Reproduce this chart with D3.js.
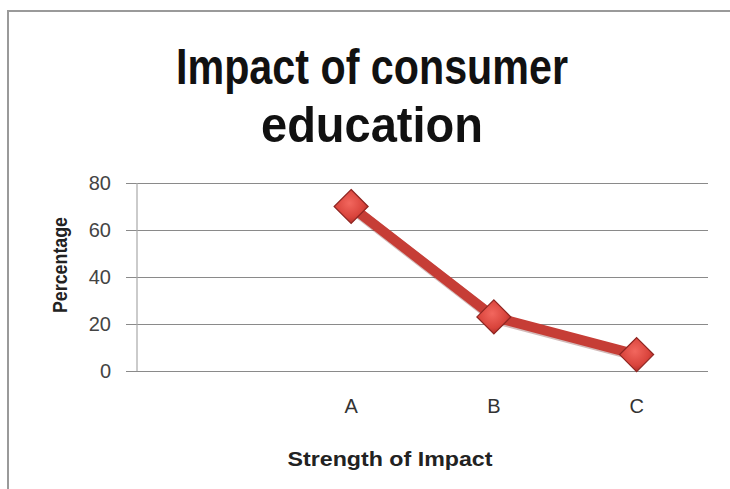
<!DOCTYPE html>
<html>
<head>
<meta charset="utf-8">
<script src="https://cdn.jsdelivr.net/npm/d3@7"></script>
<style>
  html, body { margin: 0; padding: 0; background: #fff; }
  svg { display: block; }
</style>
</head>
<body>
<svg id="chart" width="730" height="489"></svg>
<script>
// ---- data ----
const categories = ["", "A", "B", "C"];
const values = [null, 70, 23, 7];
const yTicks = [0, 20, 40, 60, 80];
const titleLines = ["Impact of consumer", "education"];
const xTitle = "Strength of Impact";
const yTitle = "Percentage";

const svg = d3.select("#chart");
const W = 730, H = 489;
const plot = { left: 137, right: 708, top: 183, bottom: 371 };

// frame
svg.append("rect").attr("width", W).attr("height", H).attr("fill", "#fff");
svg.append("path")
  .attr("d", `M8,${H} L8,11 L${W},11`)
  .attr("fill", "none").attr("stroke", "#9a9a9a").attr("stroke-width", 2);

const x = d3.scaleBand().domain(categories).range([plot.left, plot.right]);
const y = d3.scaleLinear().domain([0, 80]).range([plot.bottom, plot.top]);

const titleFont = "'Liberation Sans Narrow', 'Liberation Sans', Arial, sans-serif";
const bodyFont = "'Liberation Sans', Arial, sans-serif";

// title
const tl = [
  { text: titleLines[0], y: 84, len: 392 },
  { text: titleLines[1], y: 142, len: 222 }
];
svg.selectAll("text.title").data(tl).enter().append("text")
  .attr("class", "title")
  .attr("x", 372).attr("y", d => d.y)
  .attr("text-anchor", "middle")
  .attr("font-family", titleFont).attr("font-weight", "bold")
  .attr("font-size", 50).attr("fill", "#111")
  .attr("textLength", d => d.len).attr("lengthAdjust", "spacingAndGlyphs")
  .text(d => d.text);

// y axis with gridlines
const yAxis = d3.axisLeft(y).tickValues(yTicks).tickSize(-(plot.right - plot.left + 11)).tickPadding(15);
const gy = svg.append("g").attr("transform", `translate(${plot.left - 11},0)`).call(yAxis);
gy.select(".domain").remove();
gy.selectAll(".tick line").attr("stroke", "#8a8a8a").attr("stroke-width", 1.2);
gy.selectAll(".tick text")
  .attr("font-family", bodyFont).attr("font-size", 20).attr("fill", "#444")
  .attr("x", 111 - (plot.left - 11));

// vertical axis line
svg.append("line")
  .attr("x1", plot.left).attr("x2", plot.left)
  .attr("y1", plot.top).attr("y2", plot.bottom)
  .attr("stroke", "#a8a8a8").attr("stroke-width", 1.2);

// x axis labels
const xAxis = d3.axisBottom(x).tickSize(0).tickPadding(0);
const gx = svg.append("g").attr("transform", `translate(0,${plot.bottom})`).call(xAxis);
gx.select(".domain").remove();
gx.selectAll(".tick text")
  .attr("font-family", bodyFont).attr("font-size", 20).attr("fill", "#333")
  .attr("dy", null).attr("y", 42);

// axis titles
svg.append("text")
  .attr("x", 390).attr("y", 466)
  .attr("text-anchor", "middle")
  .attr("font-family", bodyFont).attr("font-weight", "bold")
  .attr("font-size", 20).attr("fill", "#222")
  .attr("textLength", 205).attr("lengthAdjust", "spacingAndGlyphs")
  .text(xTitle);

svg.append("text")
  .attr("transform", "translate(67,265) rotate(-90)")
  .attr("text-anchor", "middle")
  .attr("font-family", bodyFont).attr("font-weight", "bold")
  .attr("font-size", 20).attr("fill", "#222")
  .attr("textLength", 96).attr("lengthAdjust", "spacingAndGlyphs")
  .text(yTitle);

// series
const pts = categories.map((c, i) => ({ c, v: values[i] })).filter(d => d.v !== null);
const cx = d => x(d.c) + x.bandwidth() / 2;

const line = d3.line().x(cx).y(d => y(d.v));
svg.append("path").datum(pts)
  .attr("d", line)
  .attr("fill", "none")
  .attr("stroke", "#6b1a17").attr("stroke-width", 11)
  .attr("stroke-linejoin", "round").attr("opacity", 0.3)
  .attr("transform", "translate(1,1.5)");
svg.append("path").datum(pts)
  .attr("d", line)
  .attr("fill", "none")
  .attr("stroke", "#c63d36").attr("stroke-width", 10)
  .attr("stroke-linejoin", "round");

// marker gradient
const defs = svg.append("defs");
const grad = defs.append("radialGradient").attr("id", "mg").attr("cx", "45%").attr("cy", "40%").attr("r", "60%");
grad.append("stop").attr("offset", "0%").attr("stop-color", "#f2675e");
grad.append("stop").attr("offset", "70%").attr("stop-color", "#d9443c");
grad.append("stop").attr("offset", "100%").attr("stop-color", "#b3302a");

const s = 17;
svg.selectAll("path.marker").data(pts).enter().append("path")
  .attr("class", "marker")
  .attr("d", d => {
    const px = cx(d), py = y(d.v);
    return `M${px},${py - s} L${px + s},${py} L${px},${py + s} L${px - s},${py} Z`;
  })
  .attr("fill", "url(#mg)")
  .attr("stroke", "#8e2420").attr("stroke-width", 1.2);
</script>
</body>
</html>
